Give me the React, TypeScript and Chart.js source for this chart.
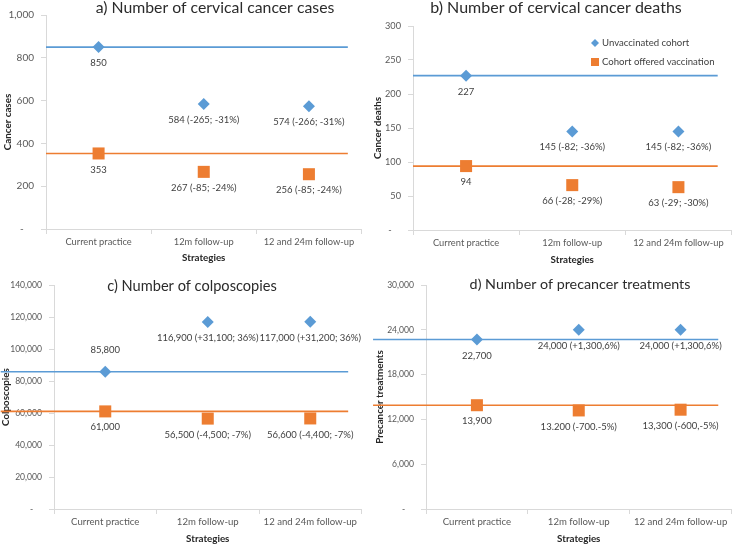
import React, { useEffect, useRef } from 'react';
import { Chart, registerables } from 'chart.js';

Chart.register(...registerables);

// ---------- data ----------
const categories = ['Current practice', '12m follow-up', '12 and 24m follow-up'];
const categoryCenters = [0.5, 1.5, 2.5];
const categoryBounds = [0, 1, 2, 3];
const seriesNames = ['Unvaccinated cohort', 'Cohort offered vaccination'];

// a) cervical cancer cases
const casesUnvacc = [850, 584, 574];
const casesVacc = [353, 267, 256];
const casesUnvaccLabels = ['850', '584 (-265; -31%)', '574 (-266; -31%)'];
const casesVaccLabels = ['353', '267 (-85; -24%)', '256 (-85; -24%)'];
const casesTicks = [0, 200, 400, 600, 800, 1000];

// b) cervical cancer deaths
const deathsUnvacc = [227, 145, 145];
const deathsVacc = [94, 66, 63];
const deathsUnvaccLabels = ['227', '145 (-82; -36%)', '145 (-82; -36%)'];
const deathsVaccLabels = ['94', '66 (-28; -29%)', '63 (-29; -30%)'];
const deathsTicks = [0, 50, 100, 150, 200, 250, 300];

// c) colposcopies
const colpUnvacc = [85800, 116900, 117000];
const colpVacc = [61000, 56500, 56600];
const colpUnvaccLabels = ['85,800', '116,900 (+31,100; 36%)', '117,000 (+31,200; 36%)'];
const colpVaccLabels = ['61,000', '56,500 (-4,500; -7%)', '56,600 (-4,400; -7%)'];
const colpTicks = [0, 20000, 40000, 60000, 80000, 100000, 120000, 140000];

// d) precancer treatments
const treatUnvacc = [22700, 24000, 24000];
const treatVacc = [13900, 13200, 13300];
const treatUnvaccLabels = ['22,700', '24,000 (+1,300,6%)', '24,000 (+1,300,6%)'];
const treatVaccLabels = ['13,900', '13.200 (-700.-5%)', '13,300 (-600,-5%)'];
const treatTicks = [0, 6000, 12000, 18000, 24000, 30000];

// reference (current practice) line extents on the category axis
const refSpanTop = [0, 2.87];
const refSpanBottom = [-0.52, 2.87];

// ---------- style ----------
const FONT = 'Lato, "Open Sans", sans-serif';
const BLUE = '#5B9BD5';
const ORANGE = '#ED7D31';
const AXIS = '#D9D9D9';
const TICK_TXT = '#595959';
const LABEL_TXT = '#404040';

type Pos = 'above' | 'below';

interface PanelCfg {
  left: number;
  top: number;
  width: number;
  height: number;
  title: string;
  titleX: number;
  titleBase: number;
  titleSize: number;
  yTitle: string;
  yTitlePad: number;
  xTitlePad: number;
  yTickSize: number;
  xTickSize: number;
  ticks: number[];
  unvacc: number[];
  vacc: number[];
  unvaccLabels: string[];
  vaccLabels: string[];
  unvaccPos: Pos[];
  vaccPos: Pos[];
  span: number[];
  yWidth: number;
  xHeight: number;
  padTop: number;
  padRight: number;
  legend: boolean;
}

const panels: PanelCfg[] = [
  {
    left: 0, top: 0, width: 370, height: 272,
    title: 'a) Number of cervical cancer cases', titleX: 215, titleBase: 12.5, titleSize: 15.8,
    yTitle: 'Cancer cases', yTitlePad: 3, xTitlePad: 9, yTickSize: 10, xTickSize: 9.3,
    ticks: casesTicks, unvacc: casesUnvacc, vacc: casesVacc,
    unvaccLabels: casesUnvaccLabels, vaccLabels: casesVaccLabels,
    unvaccPos: ['below', 'below', 'below'], vaccPos: ['below', 'below', 'below'],
    span: refSpanTop, yWidth: 46, xHeight: 43, padTop: 15, padRight: 4, legend: false,
  },
  {
    left: 370, top: 0, width: 370, height: 272,
    title: 'b) Number of cervical cancer deaths', titleX: 186, titleBase: 12.5, titleSize: 16,
    yTitle: 'Cancer deaths', yTitlePad: 2.5, xTitlePad: 7.5, yTickSize: 9.2, xTickSize: 9.3,
    ticks: deathsTicks, unvacc: deathsUnvacc, vacc: deathsVacc,
    unvaccLabels: deathsUnvaccLabels, vaccLabels: deathsVaccLabels,
    unvaccPos: ['below', 'below', 'below'], vaccPos: ['below', 'below', 'below'],
    span: refSpanTop, yWidth: 43, xHeight: 42, padTop: 26, padRight: 3, legend: true,
  },
  {
    left: 0, top: 272, width: 370, height: 273,
    title: 'c) Number of colposcopies', titleX: 192, titleBase: 18.5, titleSize: 14.6,
    yTitle: 'Colposcopies', yTitlePad: 0.5, xTitlePad: 1, yTickSize: 8.6, xTickSize: 9.6,
    ticks: colpTicks, unvacc: colpUnvacc, vacc: colpVacc,
    unvaccLabels: colpUnvaccLabels, vaccLabels: colpVaccLabels,
    unvaccPos: ['above', 'below', 'below'], vaccPos: ['below', 'below', 'below'],
    span: refSpanBottom, yWidth: 54, xHeight: 36, padTop: 13, padRight: 1, legend: false,
  },
  {
    left: 370, top: 272, width: 370, height: 273,
    title: 'd) Number of precancer treatments', titleX: 210, titleBase: 17, titleSize: 14.3,
    yTitle: 'Precancer treatments', yTitlePad: 4.5, xTitlePad: 1.5, yTickSize: 8.6, xTickSize: 9.6,
    ticks: treatTicks, unvacc: treatUnvacc, vacc: treatVacc,
    unvaccLabels: treatUnvaccLabels, vaccLabels: treatVaccLabels,
    unvaccPos: ['below', 'below', 'below'], vaccPos: ['below', 'below', 'below'],
    span: refSpanBottom, yWidth: 56, xHeight: 36, padTop: 13, padRight: 1, legend: false,
  },
];

function PanelChart({ cfg }: { cfg: PanelCfg }) {
  const ref = useRef<HTMLCanvasElement>(null);

  useEffect(() => {
    const canvas = ref.current;
    if (!canvas) return;

    const labels = [cfg.unvaccLabels, cfg.vaccLabels];
    const positions = [cfg.unvaccPos, cfg.vaccPos];

    const overlayPlugin = {
      id: 'overlay',
      afterDatasetsDraw(chart: any) {
        const ctx = chart.ctx as CanvasRenderingContext2D;
        ctx.save();
        // point labels
        ctx.font = `9.5px ${FONT}`;
        ctx.fillStyle = LABEL_TXT;
        ctx.textAlign = 'center';
        ctx.textBaseline = 'middle';
        [0, 1].forEach((di) => {
          const meta = chart.getDatasetMeta(di);
          meta.data.forEach((pt: any, i: number) => {
            const y = positions[di][i] === 'above' ? pt.y - 22 : pt.y + 16;
            ctx.fillText(labels[di][i], pt.x, y);
          });
        });
        // title
        ctx.font = `${cfg.titleSize}px ${FONT}`;
        ctx.fillStyle = '#2b2b2b';
        ctx.textBaseline = 'alphabetic';
        ctx.fillText(cfg.title, cfg.titleX, cfg.titleBase);
        // legend
        if (cfg.legend) {
          const area = chart.chartArea;
          const lx = area.left + 182;
          const ly = [area.top + 17, area.top + 36];
          ctx.font = `9.6px ${FONT}`;
          ctx.textAlign = 'left';
          ctx.textBaseline = 'middle';
          ctx.fillStyle = BLUE;
          ctx.beginPath();
          ctx.moveTo(lx, ly[0] - 4);
          ctx.lineTo(lx + 4, ly[0]);
          ctx.lineTo(lx, ly[0] + 4);
          ctx.lineTo(lx - 4, ly[0]);
          ctx.closePath();
          ctx.fill();
          ctx.fillStyle = ORANGE;
          ctx.fillRect(lx - 4, ly[1] - 4, 8, 8);
          ctx.fillStyle = LABEL_TXT;
          ctx.fillText(seriesNames[0], lx + 7, ly[0]);
          ctx.fillText(seriesNames[1], lx + 7, ly[1]);
        }
        ctx.restore();
      },
    };

    const yMax = cfg.ticks[cfg.ticks.length - 1];

    const chart = new Chart(canvas, {
      type: 'scatter',
      data: {
        datasets: [
          {
            label: seriesNames[0],
            data: categoryCenters.map((x, i) => ({ x, y: cfg.unvacc[i] })),
            pointStyle: 'rectRot',
            pointRadius: 6,
            backgroundColor: BLUE,
            borderWidth: 0,
            clip: false,
          } as any,
          {
            label: seriesNames[1],
            data: categoryCenters.map((x, i) => ({ x, y: cfg.vacc[i] })),
            pointStyle: 'rect',
            pointRadius: 8.5,
            backgroundColor: ORANGE,
            borderWidth: 0,
            clip: false,
          } as any,
          {
            label: 'ref1',
            data: cfg.span.map((x) => ({ x, y: cfg.unvacc[0] })),
            showLine: true,
            borderColor: BLUE,
            borderWidth: 1.6,
            pointRadius: 0,
            clip: false,
          } as any,
          {
            label: 'ref2',
            data: cfg.span.map((x) => ({ x, y: cfg.vacc[0] })),
            showLine: true,
            borderColor: ORANGE,
            borderWidth: 1.6,
            pointRadius: 0,
            clip: false,
          } as any,
        ],
      },
      options: {
        responsive: false,
        animation: false,
        devicePixelRatio: 1,
        layout: { padding: { left: 0, top: cfg.padTop, right: cfg.padRight, bottom: 0 } },
        plugins: {
          legend: { display: false },
          tooltip: { enabled: false },
          title: { display: false },
        },
        scales: {
          x: {
            type: 'linear',
            position: 'bottom',
            min: 0,
            max: 3,
            afterBuildTicks: (scale: any) => {
              scale.ticks = [...categoryBounds, ...categoryCenters]
                .sort((a, b) => a - b)
                .map((v) => ({ value: v }));
            },
            afterFit: (scale: any) => {
              scale.height = cfg.xHeight;
            },
            ticks: {
              autoSkip: false,
              maxRotation: 0,
              minRotation: 0,
              padding: 2.5,
              color: TICK_TXT,
              font: { family: FONT, size: cfg.xTickSize },
              callback: (v: any) => {
                const i = categoryCenters.indexOf(Number(v));
                return i >= 0 ? categories[i] : '';
              },
            },
            grid: {
              drawOnChartArea: false,
              drawTicks: true,
              tickLength: 5,
              color: (ctx: any) =>
                ctx.tick && Number.isInteger(ctx.tick.value) ? AXIS : 'rgba(0,0,0,0)',
            },
            border: { display: true, color: AXIS, width: 1 },
            title: {
              display: true,
              text: 'Strategies',
              color: '#262626',
              font: { family: FONT, size: 9.8, weight: 'bold', lineHeight: 1 },
              padding: { top: 0, bottom: cfg.xTitlePad },
            },
          },
          y: {
            type: 'linear',
            min: 0,
            max: yMax,
            afterBuildTicks: (scale: any) => {
              scale.ticks = cfg.ticks.map((v) => ({ value: v }));
            },
            afterFit: (scale: any) => {
              scale.width = cfg.yWidth;
            },
            ticks: {
              padding: 7,
              color: TICK_TXT,
              font: { family: FONT, size: cfg.yTickSize },
              callback: (v: any) => (Number(v) === 0 ? '-    ' : Number(v).toLocaleString('en-US')),
            },
            grid: {
              drawOnChartArea: false,
              drawTicks: true,
              tickLength: 5,
              color: AXIS,
            },
            border: { display: true, color: AXIS, width: 1 },
            title: {
              display: true,
              text: cfg.yTitle,
              color: '#262626',
              font: { family: FONT, size: 9.8, weight: 'bold', lineHeight: 1 },
              padding: { top: cfg.yTitlePad, bottom: 0 },
            },
          },
        },
      } as any,
      plugins: [overlayPlugin],
    });

    return () => {
      chart.destroy();
    };
  }, [cfg]);

  return (
    <canvas
      ref={ref}
      width={cfg.width}
      height={cfg.height}
      style={{
        position: 'absolute',
        left: cfg.left,
        top: cfg.top,
        width: cfg.width,
        height: cfg.height,
      }}
    />
  );
}

export default function App() {
  return (
    <div
      style={{
        position: 'absolute',
        left: 0,
        top: 0,
        width: 740,
        height: 545,
        background: '#ffffff',
        overflow: 'hidden',
      }}
    >
      {panels.map((p, i) => (
        <PanelChart key={i} cfg={p} />
      ))}
    </div>
  );
}
